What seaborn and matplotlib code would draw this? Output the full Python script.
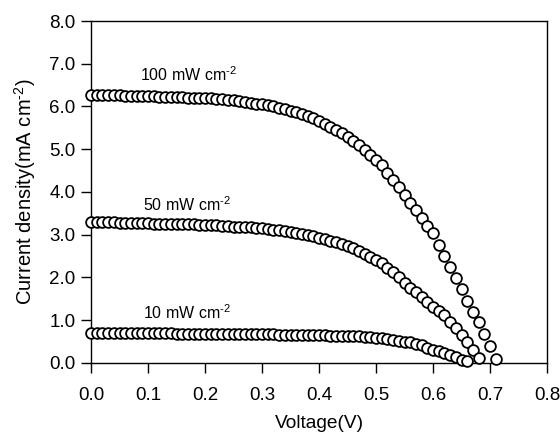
import matplotlib
matplotlib.use("Agg")
import matplotlib.pyplot as plt
import seaborn as sns
import pandas as pd

voltage_100 = [i / 100 for i in range(72)]
current_100 = [6.28, 6.27, 6.27, 6.26, 6.26, 6.26, 6.25, 6.25, 6.25, 6.24,
               6.24, 6.24, 6.23, 6.23, 6.22, 6.22, 6.22, 6.21, 6.21, 6.20,
               6.19, 6.19, 6.18, 6.17, 6.16, 6.15, 6.13, 6.11, 6.09, 6.07,
               6.05, 6.03, 6.00, 5.97, 5.94, 5.90, 5.86, 5.82, 5.77, 5.72,
               5.66, 5.59, 5.52, 5.45, 5.37, 5.28, 5.19, 5.09, 4.98, 4.87,
               4.76, 4.62, 4.45, 4.28, 4.11, 3.93, 3.75, 3.57, 3.39, 3.21,
               3.03, 2.77, 2.51, 2.25, 1.98, 1.72, 1.46, 1.20, 0.95, 0.68,
               0.40, 0.10]

voltage_50 = [i / 100 for i in range(69)]
current_50 = [3.30, 3.30, 3.29, 3.29, 3.29, 3.28, 3.28, 3.28, 3.27, 3.27,
              3.27, 3.26, 3.26, 3.26, 3.25, 3.25, 3.25, 3.24, 3.24, 3.23,
              3.23, 3.22, 3.22, 3.21, 3.20, 3.19, 3.19, 3.18, 3.17, 3.16,
              3.15, 3.13, 3.12, 3.10, 3.08, 3.06, 3.04, 3.02, 2.99, 2.96,
              2.93, 2.90, 2.86, 2.82, 2.78, 2.73, 2.68, 2.62, 2.56, 2.49,
              2.42, 2.34, 2.23, 2.12, 2.00, 1.88, 1.76, 1.65, 1.54, 1.43,
              1.32, 1.22, 1.12, 0.97, 0.82, 0.66, 0.49, 0.31, 0.11]

voltage_10 = [i / 100 for i in range(67)]
current_10 = [0.69, 0.69, 0.69, 0.69, 0.69, 0.69, 0.69, 0.69, 0.69, 0.69,
              0.69, 0.69, 0.69, 0.69, 0.69, 0.68, 0.68, 0.68, 0.68, 0.68,
              0.68, 0.68, 0.68, 0.68, 0.68, 0.68, 0.67, 0.67, 0.67, 0.67,
              0.67, 0.67, 0.67, 0.66, 0.66, 0.66, 0.66, 0.66, 0.65, 0.65,
              0.65, 0.65, 0.64, 0.64, 0.64, 0.63, 0.62, 0.62, 0.61, 0.60,
              0.59, 0.58, 0.56, 0.54, 0.52, 0.50, 0.48, 0.45, 0.41, 0.36,
              0.31, 0.27, 0.23, 0.18, 0.13, 0.08, 0.05]

labels = [r"100 mW cm$^{\text{-}2}$", r"50 mW cm$^{\text{-}2}$", r"10 mW cm$^{\text{-}2}$"]
label_x = [0.086, 0.092, 0.092]
label_y = [6.74, 3.70, 1.17]

x_ticks = [0.0, 0.1, 0.2, 0.3, 0.4, 0.5, 0.6, 0.7, 0.8]
y_ticks = [0.0, 1.0, 2.0, 3.0, 4.0, 5.0, 6.0, 7.0, 8.0]

sns.set_style("ticks")
plt.rcParams["font.family"] = ["Liberation Sans", "DejaVu Sans"]
plt.rcParams["mathtext.fontset"] = "custom"
plt.rcParams["mathtext.rm"] = "Liberation Sans"
plt.rcParams["mathtext.it"] = "Liberation Sans:italic"
plt.rcParams["mathtext.default"] = "regular"
for key in ["text.color", "axes.labelcolor", "xtick.color", "ytick.color",
            "xtick.labelcolor", "ytick.labelcolor", "axes.edgecolor"]:
    plt.rcParams[key] = "black"

fig = plt.figure(figsize=(5.6, 4.33), dpi=100)
ax = fig.add_axes([0.1625, 0.1617, 0.8143, 0.7898])

for vx, cy in [(voltage_100, current_100), (voltage_50, current_50), (voltage_10, current_10)]:
    df = pd.DataFrame({"V": vx, "J": cy})
    sns.scatterplot(data=df, x="V", y="J", ax=ax, marker="o", s=60,
                    facecolor="white", edgecolor="black", linewidth=1.3,
                    zorder=3, clip_on=False)

for t, lx, ly in zip(labels, label_x, label_y):
    ax.text(lx, ly, t, fontsize=11.5, ha="left", va="center", color="black")

ax.set_xlim(0.0, 0.8)
ax.set_ylim(0.0, 8.0)
ax.set_xticks(x_ticks)
ax.set_yticks(y_ticks)
ax.set_xticklabels([f"{v:.1f}" for v in x_ticks], fontsize=13.5)
ax.set_yticklabels([f"{v:.1f}" for v in y_ticks], fontsize=13.5)
ax.set_xlabel("Voltage(V)", fontsize=13.8, labelpad=8)
ax.set_ylabel(r"Current density(mA cm$^{\text{-}2}$)", fontsize=14.5, labelpad=8)
ax.tick_params(axis="both", direction="out", length=7, width=1, color="black",
               top=False, right=False)
ax.tick_params(axis="x", pad=10)
ax.tick_params(axis="y", pad=4)
for sp in ax.spines.values():
    sp.set_visible(True)
    sp.set_color("black")
    sp.set_linewidth(1)

fig.savefig("out.png", dpi=100)
